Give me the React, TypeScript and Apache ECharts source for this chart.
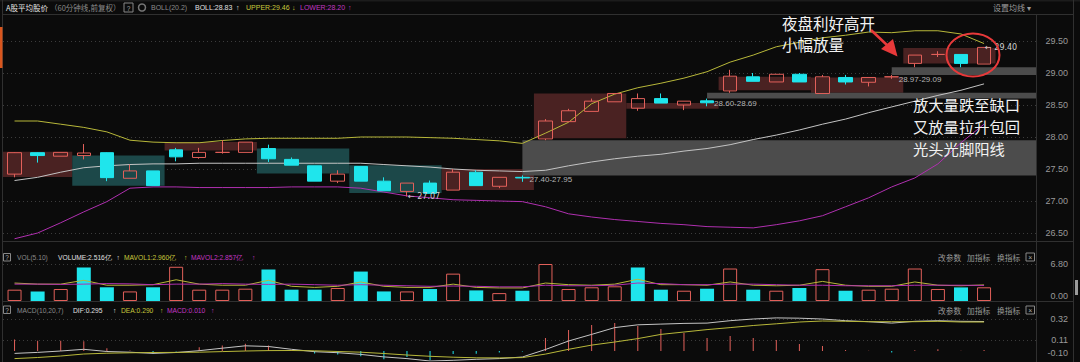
import React, { useEffect, useRef } from "react";
import * as echarts from "echarts";

// ---------------- DATA ----------------
const opens = [27.42, 27.755, 27.70, 27.71, 27.755, 27.355, 27.47, 27.80, 27.68, 27.76, 27.76, 27.82, 27.65, 27.55, 27.31, 27.54, 27.31, 27.15, 27.28, 27.17, 27.45, 27.23, 27.37, 27.97, 28.24, 28.40, 28.55, 28.45, 28.60, 28.50, 28.565, 28.72, 28.94, 28.86, 28.98, 28.68, 28.93, 28.855, 28.94, 29.15, 29.29, 29.29, 29.14];
const closes = [27.755, 27.71, 27.76, 27.75, 27.365, 27.47, 27.24, 27.69, 27.76, 27.76, 27.92, 27.66, 27.56, 27.31, 27.42, 27.31, 27.16, 27.28, 27.12, 27.45, 27.24, 27.37, 27.36, 28.25, 28.41, 28.56, 28.68, 28.60, 28.53, 28.56, 28.535, 28.95, 28.87, 28.98, 28.86, 28.94, 28.86, 28.93, 28.94, 29.28, 29.29, 29.15, 29.40];
const lows = [27.37, 27.60, 27.70, 27.65, 27.31, 27.355, 27.24, 27.62, 27.66, 27.74, 27.76, 27.61, 27.56, 27.31, 27.28, 27.31, 27.16, 27.07, 27.12, 27.17, 27.24, 27.20, 27.30, 27.95, 28.24, 28.40, 28.55, 28.41, 28.53, 28.42, 28.48, 28.69, 28.87, 28.86, 28.86, 28.68, 28.82, 28.79, 28.91, 29.09, 29.25, 29.09, 29.14];
const highs = [27.76, 27.76, 27.76, 27.89, 27.76, 27.57, 27.47, 27.83, 27.83, 27.95, 27.92, 27.88, 27.68, 27.55, 27.48, 27.54, 27.37, 27.28, 27.32, 27.50, 27.48, 27.37, 27.40, 28.28, 28.44, 28.60, 28.68, 28.68, 28.68, 28.56, 28.60, 29.05, 29.00, 28.98, 29.00, 28.97, 28.97, 28.93, 28.97, 29.28, 29.34, 29.29, 29.40];

const bollUpper = [28.25, 28.25, 28.20, 28.15, 28.08, 27.95, 27.92, 27.91, 27.91, 27.945, 27.97, 27.98, 27.98, 27.98, 27.98, 28.00, 28.00, 28.00, 27.99, 27.98, 27.96, 27.94, 27.90, 28.06, 28.23, 28.52, 28.67, 28.77, 28.84, 28.92, 29.02, 29.17, 29.28, 29.41, 29.48, 29.55, 29.59, 29.64, 29.63, 29.66, 29.66, 29.61, 29.46];
const bollMid = [27.32, 27.37, 27.45, 27.52, 27.55, 27.57, 27.58, 27.58, 27.59, 27.59, 27.59, 27.59, 27.59, 27.59, 27.59, 27.59, 27.57, 27.55, 27.53, 27.50, 27.48, 27.47, 27.46, 27.48, 27.55, 27.61, 27.66, 27.70, 27.73, 27.78, 27.82, 27.88, 27.96, 28.03, 28.11, 28.20, 28.28, 28.38, 28.47, 28.56, 28.65, 28.73, 28.83];
const bollLower = [26.41, 26.50, 26.66, 26.83, 26.99, 27.20, 27.22, 27.22, 27.21, 27.21, 27.21, 27.21, 27.22, 27.22, 27.22, 27.20, 27.14, 27.08, 27.05, 27.02, 27.01, 27.00, 26.99, 26.91, 26.80, 26.75, 26.71, 26.68, 26.65, 26.63, 26.60, 26.59, 26.58, 26.63, 26.69, 26.77, 26.91, 27.05, 27.22, 27.36, 27.58, 27.91, 28.20];

const volumes = [2.08, 1.76, 2.2, 6.16, 2.52, 1.76, 2.52, 6.29, 2.08, 2.08, 2.26, 5.79, 2.08, 2.08, 2.39, 5.41, 1.76, 1.76, 2.2, 5.03, 1.95, 1.45, 1.89, 6.8, 2.2, 2.52, 2.7, 6.16, 2.08, 1.89, 2.26, 5.97, 2.08, 1.89, 2.39, 5.85, 1.89, 2.08, 2.26, 5.97, 2.2, 2.5, 2.516];
const maVol1 = [3.3, 3.1, 3.1, 3.8, 2.9, 2.9, 3.0, 3.9, 3.1, 2.9, 2.9, 3.8, 2.7, 2.5, 2.7, 3.5, 2.7, 2.5, 2.5, 3.1, 2.5, 2.4, 2.4, 3.3, 3.0, 2.9, 3.1, 4.0, 3.0, 3.0, 2.9, 3.5, 2.9, 2.8, 2.9, 3.6, 2.9, 2.7, 2.7, 3.5, 2.9, 2.8, 2.96];
const maVol2 = [3.1, 3.1, 3.05, 3.1, 3.2, 3.15, 3.0, 3.1, 3.1, 3.2, 3.1, 3.05, 3.1, 3.0, 2.9, 3.0, 2.9, 2.8, 2.7, 2.75, 2.7, 2.6, 2.6, 2.9, 2.8, 2.8, 2.9, 3.3, 3.2, 3.0, 3.0, 3.1, 3.1, 3.0, 2.9, 2.9, 2.8, 2.8, 2.8, 2.9, 2.9, 2.9, 2.857];

const dif = [-0.024, -0.014, 0.0, 0.017, -0.005, -0.012, -0.024, -0.015, 0.003, 0.028, 0.052, 0.045, 0.017, -0.007, -0.017, -0.034, -0.059, -0.076, -0.1, -0.093, -0.083, -0.076, -0.06, 0.015, 0.1, 0.166, 0.234, 0.262, 0.269, 0.276, 0.279, 0.303, 0.32, 0.331, 0.328, 0.32, 0.303, 0.293, 0.279, 0.297, 0.303, 0.297, 0.295];
const dea = [-0.076, -0.065, -0.05, -0.03, -0.022, -0.018, -0.015, -0.014, -0.012, -0.006, 0.0, 0.004, 0.005, 0.002, -0.005, -0.012, -0.025, -0.04, -0.053, -0.062, -0.068, -0.069, -0.066, -0.031, 0.017, 0.059, 0.09, 0.124, 0.166, 0.19, 0.214, 0.234, 0.255, 0.272, 0.29, 0.3, 0.297, 0.293, 0.293, 0.293, 0.297, 0.29, 0.29];
const macdHist = [0.114, 0.103, 0.103, 0.097, 0.028, 0.005, -0.024, -0.005, 0.038, 0.055, 0.072, 0.055, 0.01, -0.024, -0.034, -0.052, -0.083, -0.059, -0.093, -0.031, -0.028, -0.014, -0.005, 0.13, 0.21, 0.26, 0.28, 0.25, 0.22, 0.18, 0.13, 0.15, 0.13, 0.11, 0.07, 0.05, 0.01, 0.003, -0.014, 0.007, 0.017, 0.002, 0.01];

// trading-day zones: [firstIdx, lastIdx, low, high, up(1)/down(0)]
const dayZones = [
  [0, 2, 27.375, 27.77, 1],
  [3, 6, 27.24, 27.71, 0],
  [7, 10, 27.79, 27.92, 1],
  [11, 14, 27.43, 27.82, 0],
  [15, 18, 27.125, 27.56, 0],
  [19, 22, 27.17, 27.50, 1],
  [23, 26, 27.98, 28.68, 1],
  [27, 30, 28.44, 28.53, 1],
  [31, 34, 28.73, 28.94, 1],
  [35, 38, 28.69, 28.93, 1],
  [39, 42, 29.15, 29.39, 1],
];
// open gaps: [startIdx, low, high]
const gaps = [
  [22, 27.40, 27.95],
  [30, 28.60, 28.69],
  [38, 28.97, 29.09],
];
// extremes: [idx, price]
const extremes = [
  [17, 27.07],
  [42, 29.40],
];

// ---------------- STYLE ----------------
const BG = "#0b0b0b";
const RED = "#e2605a";
const CYAN = "#1fe5ec";
const YEL = "#b8b83a";
const MAG = "#b030b0";
const WHITE_LINE = "#c4c4c4";
const SEP = "#303030";
const GRIDC = "#3c3c3c";
const AXIS_TXT = "#9a9a9a";
const LATIN = '"Liberation Sans", Arial, sans-serif';
const CJK = '"Noto Sans CJK SC", "Noto Sans", sans-serif';

const txt = (x: number, y: number, text: string, fill: string, size = 7, family = LATIN, extra: any = {}) => ({
  type: "text",
  x,
  y,
  z: 50,
  silent: true,
  style: { text, fill, fontSize: size, fontFamily: family, verticalAlign: "middle", align: "left", ...extra },
});
const hline = (y: number, x1: number, x2: number, c = SEP) => ({
  type: "line",
  z: 40,
  silent: true,
  shape: { x1, y1: y, x2, y2: y },
  style: { stroke: c, lineWidth: 1 },
});
const vline = (x: number, y1: number, y2: number, c = SEP) => ({
  type: "line",
  z: 40,
  silent: true,
  shape: { x1: x, y1, x2: x, y2 },
  style: { stroke: c, lineWidth: 1 },
});
const helpBox = (x: number, y: number, w: number, h: number) => [
  { type: "rect", z: 50, silent: true, shape: { x, y, width: w, height: h }, style: { fill: "none", stroke: "#888", lineWidth: 1 } },
  txt(x + w / 2, y + h / 2 + 0.5, "?", "#aaa", 6.5, LATIN, { align: "center" }),
];
const closeBox = (x: number, y: number) => [
  { type: "rect", z: 50, silent: true, shape: { x, y, width: 8.5, height: 8 }, style: { fill: "none", stroke: "#888", lineWidth: 1 } },
  txt(x + 4.25, y + 4.3, "×", "#aaa", 7, LATIN, { align: "center" }),
];

export default function App() {
  const ref = useRef<HTMLDivElement>(null);

  useEffect(() => {
    document.body.style.margin = "0";
    document.body.style.background = BG;
    const chart = echarts.init(ref.current as HTMLDivElement, null, { renderer: "svg" });

    const candleData = opens.map((o, i) => [i, o, closes[i], lows[i], highs[i]]);
    const volData = volumes.map((v, i) => {
      const up = i === 0 ? true : closes[i] >= closes[i - 1];
      return {
        value: [i, v],
        itemStyle: up
          ? { color: "rgba(0,0,0,0)", borderColor: RED, borderWidth: 1 }
          : { color: CYAN, borderColor: CYAN, borderWidth: 0 },
      };
    });
    const histData = macdHist.map((v, i) => ({
      value: [i, v],
      itemStyle: { color: v >= 0 ? RED : CYAN },
    }));
    const pairs = (arr: number[]) => arr.map((v, i) => [i, v]);

    const lineSeries = (name: string, data: number[], color: string, x: number, z = 3) => ({
      name,
      type: "line",
      xAxisIndex: x,
      yAxisIndex: x,
      data: pairs(data),
      showSymbol: false,
      symbol: "none",
      z,
      silent: true,
      lineStyle: { color, width: 1 },
    });

    const option: any = {
      animation: false,
      backgroundColor: BG,
      grid: [
        { left: 3, right: 44, top: 15, height: 226 },
        { left: 3, right: 44, top: 264, height: 37 },
        { left: 3, right: 44, top: 317, height: 44 },
      ],
      xAxis: [0, 1, 2].map((g) => ({ type: "value", gridIndex: g, min: -0.5, max: 44.25, show: false })),
      yAxis: [
        {
          type: "value",
          gridIndex: 0,
          position: "right",
          min: 26.375,
          max: 29.90625,
          splitNumber: 7,
          minInterval: 0.5,
          maxInterval: 0.5,
          axisLine: { show: false },
          axisTick: { show: false },
          axisLabel: {
            color: AXIS_TXT,
            fontSize: 9,
            fontFamily: LATIN,
            margin: 32,
            align: "right",
            showMinLabel: false,
            showMaxLabel: false,
            formatter: (v: number) => v.toFixed(2),
          },
          splitLine: { show: true, showMinLine: false, showMaxLine: false, lineStyle: { color: GRIDC, type: [1, 3], width: 1 } },
        },
        {
          type: "value",
          gridIndex: 1,
          position: "right",
          min: 0,
          max: 6.8,
          interval: 6.8,
          axisLine: { show: false },
          axisTick: { show: false },
          axisLabel: {
            color: AXIS_TXT,
            fontSize: 9,
            fontFamily: LATIN,
            margin: 32,
            align: "right",
            formatter: (v: number) => (v === 0 ? "{lo|0.00}" : v.toFixed(2)),
            rich: { lo: { color: AXIS_TXT, fontSize: 9, fontFamily: LATIN, padding: [0, 0, 10, 0] } },
          },
          splitLine: { show: true, showMinLine: false, lineStyle: { color: GRIDC, type: [1, 3], width: 1 } },
        },
        {
          type: "value",
          gridIndex: 2,
          position: "right",
          min: -0.1,
          max: 0.34,
          interval: 0.21,
          axisLine: { show: false },
          axisTick: { show: false },
          axisLabel: {
            color: AXIS_TXT,
            fontSize: 9,
            fontFamily: LATIN,
            margin: 32,
            align: "right",
            showMaxLabel: false,
            formatter: (v: number) => (v < 0 ? "{lo|" + v.toFixed(2) + "}" : v.toFixed(2)),
            rich: { lo: { color: AXIS_TXT, fontSize: 9, fontFamily: LATIN, padding: [0, 0, 16, 0] } },
          },
          splitLine: { show: true, showMinLine: false, showMaxLine: false, lineStyle: { color: GRIDC, type: [1, 3], width: 1 } },
        },
      ],
      series: [
        {
          name: "dayZones",
          type: "custom",
          xAxisIndex: 0,
          yAxisIndex: 0,
          z: 1,
          silent: true,
          data: dayZones,
          encode: { x: [0, 1], y: [2, 3] },
          renderItem: (params: any, api: any) => {
            const s = api.value(0);
            const e = api.value(1);
            const a = api.coord([s - 0.5, api.value(3)]);
            const b = api.coord([e + 0.5, api.value(2)]);
            return {
              type: "rect",
              shape: { x: a[0], y: a[1], width: b[0] - a[0], height: b[1] - a[1] },
              style: { fill: api.value(4) ? "#4a2222" : "#1c4849" },
            };
          },
        },
        {
          name: "gaps",
          type: "custom",
          xAxisIndex: 0,
          yAxisIndex: 0,
          z: 2,
          silent: true,
          data: gaps,
          encode: { x: 0, y: [1, 2] },
          renderItem: (params: any, api: any) => {
            const i = api.value(0);
            const a = api.coord([i, api.value(2)]);
            const b = api.coord([i, api.value(1)]);
            const right = params.coordSys.x + params.coordSys.width;
            return {
              type: "rect",
              shape: { x: a[0], y: a[1], width: right - a[0], height: b[1] - a[1] },
              style: { fill: "#4c4c4c" },
            };
          },
        },
        lineSeries("UPPER", bollUpper, YEL, 0, 3),
        lineSeries("BOLL", bollMid, WHITE_LINE, 0, 3),
        lineSeries("LOWER", bollLower, MAG, 0, 3),
        {
          name: "K",
          type: "candlestick",
          xAxisIndex: 0,
          yAxisIndex: 0,
          z: 4,
          silent: true,
          barWidth: 14,
          data: candleData,
          encode: { x: 0, y: [1, 2, 3, 4] },
          itemStyle: {
            color: "rgba(0,0,0,0)",
            color0: CYAN,
            borderColor: RED,
            borderColor0: CYAN,
            borderWidth: 1,
          },
        },
        {
          name: "gapLabels",
          type: "custom",
          xAxisIndex: 0,
          yAxisIndex: 0,
          z: 6,
          silent: true,
          data: gaps,
          encode: { x: 0, y: [1, 2] },
          renderItem: (params: any, api: any) => {
            const lo = api.value(1);
            const hi = api.value(2);
            const p = api.coord([api.value(0), lo]);
            return {
              type: "text",
              x: p[0] + 7,
              y: p[1] + 4.5,
              style: {
                text: lo.toFixed(2) + "-" + hi.toFixed(2),
                fill: "#b4b4b4",
                fontSize: 8,
                fontFamily: LATIN,
                verticalAlign: "middle",
                align: "left",
              },
            };
          },
        },
        {
          name: "extremes",
          type: "custom",
          xAxisIndex: 0,
          yAxisIndex: 0,
          z: 6,
          silent: true,
          data: extremes,
          encode: { x: 0, y: 1 },
          renderItem: (params: any, api: any) => {
            const v = api.value(1);
            const p = api.coord([api.value(0), v]);
            return {
              type: "text",
              x: p[0] + 1,
              y: p[1],
              style: {
                text: "← " + v.toFixed(2),
                fill: "#cfcfcf",
                fontSize: 8,
                fontFamily: '"DejaVu Sans", "Liberation Sans", sans-serif',
                verticalAlign: "middle",
                align: "left",
              },
            };
          },
        },
        {
          name: "VOLUME",
          type: "bar",
          xAxisIndex: 1,
          yAxisIndex: 1,
          z: 2,
          silent: true,
          barWidth: 14,
          data: volData,
        },
        lineSeries("MAVOL1", maVol1, YEL, 1, 4),
        lineSeries("MAVOL2", maVol2, MAG, 1, 4),
        {
          name: "MACD",
          type: "bar",
          xAxisIndex: 2,
          yAxisIndex: 2,
          z: 2,
          silent: true,
          barWidth: 1,
          data: histData,
        },
        lineSeries("DIF", dif, WHITE_LINE, 2, 4),
        lineSeries("DEA", dea, YEL, 2, 4),
      ],
      graphic: {
        elements: [
          // frame lines
          { type: "rect", z: 39, silent: true, shape: { x: 0, y: 0, width: 1080, height: 1.5 }, style: { fill: "#1c1c1c" } },
          hline(14.5, 3, 1073),
          hline(241.5, 3, 1073),
          hline(301.5, 3, 1073),
          vline(2.5, 0, 362),
          vline(1036.5, 14, 362),
          vline(1073.5, 0, 362),
          { type: "rect", z: 41, silent: true, shape: { x: 0, y: 27, width: 2.5, height: 41 }, style: { fill: "#d9561e" } },
          { type: "rect", z: 41, silent: true, shape: { x: 1075, y: 280, width: 3, height: 15 }, style: { fill: "#9a9a9a" } },

          // main header
          txt(6, 7.5, "A股平均股价", "#e6e6e6", 7.5, CJK),
          txt(50, 7.5, "（60分钟线,前复权）", "#8a8a8a", 7.5, CJK),
          ...helpBox(124, 3, 9, 9),
          { type: "circle", z: 50, silent: true, shape: { cx: 142, cy: 7.5, r: 3.5 }, style: { fill: "none", stroke: "#777", lineWidth: 1.5 } },
          txt(151, 7.5, "BOLL(20.2)", "#8a8a8a"),
          txt(195, 7.5, "BOLL:28.83", "#e0e0e0"),
          txt(236, 7.5, "↑", "#e0e0e0"),
          txt(246, 7.5, "UPPER:29.46", "#c8c83c"),
          txt(292, 7.5, "↓", "#c8c83c"),
          txt(300, 7.5, "LOWER:28.20", "#c236c2"),
          txt(348, 7.5, "↑", "#c236c2"),
          txt(993, 7.5, "设置均线 ▾", "#9a9a9a", 8, CJK),

          // volume header
          ...helpBox(3.5, 253.5, 7, 7.5),
          txt(17, 257.5, "VOL(5.10)", "#8a8a8a", 6.7),
          txt(58, 257.5, "VOLUME:2.516亿", "#e0e0e0", 6.7),
          txt(116.5, 257.5, "↑", "#e0e0e0", 6.7),
          txt(124, 257.5, "MAVOL1:2.960亿", "#c8c83c", 6.7),
          txt(184, 257.5, "↑", "#c8c83c", 6.7),
          txt(191, 257.5, "MAVOL2:2.857亿", "#c236c2", 6.7),
          txt(252, 257.5, "↑", "#c236c2", 6.7),
          txt(938, 257, "改参数", "#9a9a9a", 7.7, CJK),
          txt(967, 257, "加指标", "#9a9a9a", 7.7, CJK),
          txt(997, 257, "换指标", "#9a9a9a", 7.7, CJK),
          ...closeBox(1026, 253),

          // macd header
          ...helpBox(3.5, 306, 7, 7.5),
          txt(17, 310, "MACD(10,20,7)", "#8a8a8a", 6.7),
          txt(73, 310, "DIF:0.295", "#e0e0e0", 6.7),
          txt(113, 310, "↑", "#e0e0e0", 6.7),
          txt(121, 310, "DEA:0.290", "#c8c83c", 6.7),
          txt(160, 310, "↑", "#c8c83c", 6.7),
          txt(167, 310, "MACD:0.010", "#c236c2", 6.7),
          txt(211, 310, "↑", "#c236c2", 6.7),
          txt(938, 310, "改参数", "#9a9a9a", 7.7, CJK),
          txt(967, 310, "加指标", "#9a9a9a", 7.7, CJK),
          txt(997, 310, "换指标", "#9a9a9a", 7.7, CJK),
          ...closeBox(1026, 306),

          // annotations
          {
            type: "text",
            z: 100,
            silent: true,
            x: 782,
            y: 12,
            style: { text: "夜盘利好高开\n小幅放量", fill: "#f2f2f2", fontSize: 15.5, fontFamily: CJK, lineHeight: 21, verticalAlign: "top", align: "left" },
          },
          {
            type: "text",
            z: 100,
            silent: true,
            x: 913,
            y: 93,
            style: { text: "放大量跌至缺口\n又放量拉升包回\n光头光脚阳线", fill: "#f2f2f2", fontSize: 15.3, fontFamily: CJK, lineHeight: 22, verticalAlign: "top", align: "left" },
          },
          {
            type: "line",
            z: 100,
            silent: true,
            shape: { x1: 871, y1: 30, x2: 888, y2: 46 },
            style: { stroke: "#e8393a", lineWidth: 2.5 },
          },
          {
            type: "polygon",
            z: 100,
            silent: true,
            shape: { points: [[897.5, 56.5], [881, 49], [893, 39]] },
            style: { fill: "#e8393a" },
          },
          {
            type: "ellipse",
            z: 100,
            silent: true,
            shape: { cx: 973, cy: 55, rx: 26.5, ry: 21.5 },
            style: { fill: "none", stroke: "#e8393a", lineWidth: 2 },
          },
        ],
      },
    };

    chart.setOption(option);
    return () => chart.dispose();
  }, []);

  return (
    <div
      ref={ref}
      style={{ position: "absolute", left: 0, top: 0, width: 1080, height: 362, background: BG }}
    />
  );
}
